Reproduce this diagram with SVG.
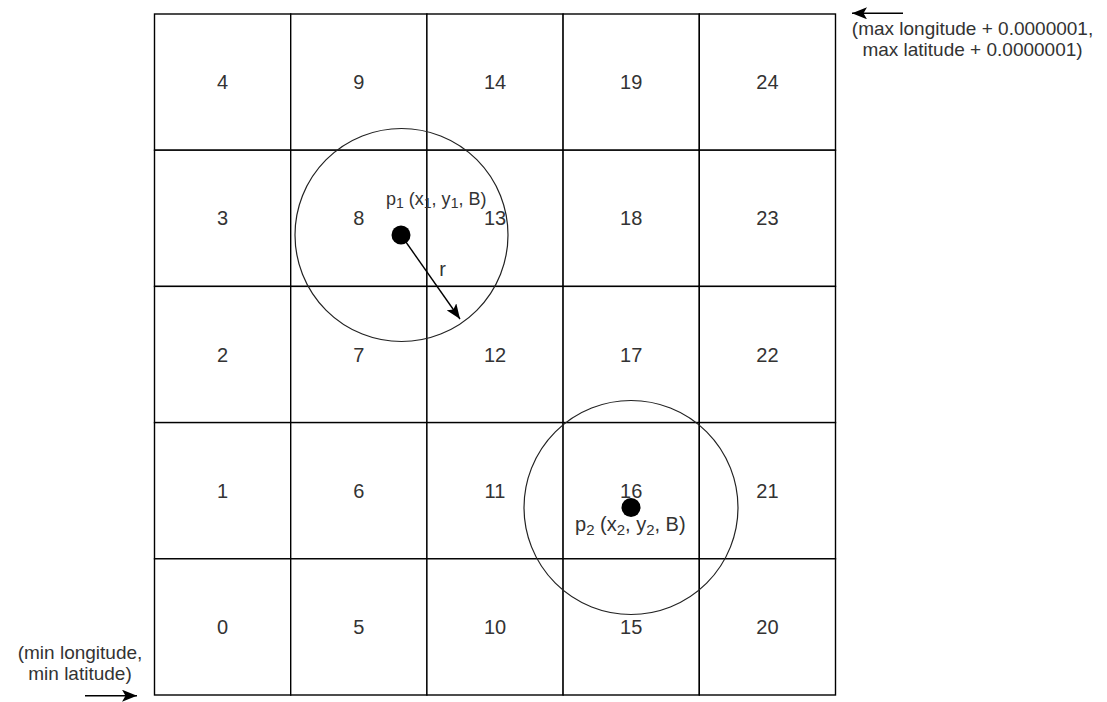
<svg xmlns="http://www.w3.org/2000/svg" width="1107" height="702" viewBox="0 0 1107 702">
<style>
.cell{fill:#fff;stroke:#000;stroke-width:1.4}
.num{font-family:"Liberation Sans",Arial,sans-serif;font-size:20px;fill:#333;text-anchor:middle}
.lbl{font-family:"Liberation Sans",Arial,sans-serif;fill:#333}
.ring{fill:none;stroke:#222;stroke-width:1.2}
.dot{fill:#000}
.conn{stroke:#000;stroke-width:1.4;fill:none}
</style>
<defs>
<marker id="ah" markerUnits="userSpaceOnUse" markerWidth="16" markerHeight="12" refX="15" refY="6" orient="auto">
<path d="M0,0 L15,6 L0,12 L3.5,6 z" fill="#000"/>
</marker>
</defs>
<rect width="1107" height="702" fill="#fff"/>
<g id="grid">
<g id="cell-4"><rect class="cell" x="154.5" y="14" width="136.2" height="136.2"/><text class="num" x="222.6" y="89.1">4</text></g>
<g id="cell-3"><rect class="cell" x="154.5" y="150.2" width="136.2" height="136.2"/><text class="num" x="222.6" y="225.3">3</text></g>
<g id="cell-2"><rect class="cell" x="154.5" y="286.4" width="136.2" height="136.2"/><text class="num" x="222.6" y="361.5">2</text></g>
<g id="cell-1"><rect class="cell" x="154.5" y="422.6" width="136.2" height="136.2"/><text class="num" x="222.6" y="497.7">1</text></g>
<g id="cell-0"><rect class="cell" x="154.5" y="558.8" width="136.2" height="136.2"/><text class="num" x="222.6" y="633.9">0</text></g>
<g id="cell-9"><rect class="cell" x="290.7" y="14" width="136.2" height="136.2"/><text class="num" x="358.8" y="89.1">9</text></g>
<g id="cell-8"><rect class="cell" x="290.7" y="150.2" width="136.2" height="136.2"/><text class="num" x="358.8" y="225.3">8</text></g>
<g id="cell-7"><rect class="cell" x="290.7" y="286.4" width="136.2" height="136.2"/><text class="num" x="358.8" y="361.5">7</text></g>
<g id="cell-6"><rect class="cell" x="290.7" y="422.6" width="136.2" height="136.2"/><text class="num" x="358.8" y="497.7">6</text></g>
<g id="cell-5"><rect class="cell" x="290.7" y="558.8" width="136.2" height="136.2"/><text class="num" x="358.8" y="633.9">5</text></g>
<g id="cell-14"><rect class="cell" x="426.9" y="14" width="136.2" height="136.2"/><text class="num" x="495" y="89.1">14</text></g>
<g id="cell-13"><rect class="cell" x="426.9" y="150.2" width="136.2" height="136.2"/><text class="num" x="495" y="225.3">13</text></g>
<g id="cell-12"><rect class="cell" x="426.9" y="286.4" width="136.2" height="136.2"/><text class="num" x="495" y="361.5">12</text></g>
<g id="cell-11"><rect class="cell" x="426.9" y="422.6" width="136.2" height="136.2"/><text class="num" x="495" y="497.7">11</text></g>
<g id="cell-10"><rect class="cell" x="426.9" y="558.8" width="136.2" height="136.2"/><text class="num" x="495" y="633.9">10</text></g>
<g id="cell-19"><rect class="cell" x="563.1" y="14" width="136.2" height="136.2"/><text class="num" x="631.2" y="89.1">19</text></g>
<g id="cell-18"><rect class="cell" x="563.1" y="150.2" width="136.2" height="136.2"/><text class="num" x="631.2" y="225.3">18</text></g>
<g id="cell-17"><rect class="cell" x="563.1" y="286.4" width="136.2" height="136.2"/><text class="num" x="631.2" y="361.5">17</text></g>
<g id="cell-16"><rect class="cell" x="563.1" y="422.6" width="136.2" height="136.2"/><text class="num" x="631.2" y="497.7">16</text></g>
<g id="cell-15"><rect class="cell" x="563.1" y="558.8" width="136.2" height="136.2"/><text class="num" x="631.2" y="633.9">15</text></g>
<g id="cell-24"><rect class="cell" x="699.3" y="14" width="136.2" height="136.2"/><text class="num" x="767.4" y="89.1">24</text></g>
<g id="cell-23"><rect class="cell" x="699.3" y="150.2" width="136.2" height="136.2"/><text class="num" x="767.4" y="225.3">23</text></g>
<g id="cell-22"><rect class="cell" x="699.3" y="286.4" width="136.2" height="136.2"/><text class="num" x="767.4" y="361.5">22</text></g>
<g id="cell-21"><rect class="cell" x="699.3" y="422.6" width="136.2" height="136.2"/><text class="num" x="767.4" y="497.7">21</text></g>
<g id="cell-20"><rect class="cell" x="699.3" y="558.8" width="136.2" height="136.2"/><text class="num" x="767.4" y="633.9">20</text></g>
</g>
<g id="circle-p1"><circle class="ring" cx="401.5" cy="235" r="106.5"/></g>
<g id="circle-p2"><circle class="ring" cx="631" cy="507.5" r="107"/></g>
<g id="connectors">
<line class="conn" x1="401" y1="235" x2="460" y2="319" marker-end="url(#ah)"/>
<line class="conn" x1="903" y1="13.3" x2="852" y2="13.3" marker-end="url(#ah)"/>
<line class="conn" x1="85" y1="695.7" x2="137" y2="695.7" marker-end="url(#ah)"/>
</g>
<g id="point-p1">
<circle class="dot" cx="401" cy="235" r="9.5"/>
<text class="lbl" x="386" y="205" font-size="18">p<tspan font-size="14" dy="3">1</tspan><tspan dy="-3"> (x</tspan><tspan font-size="14" dy="3">1</tspan><tspan dy="-3">, y</tspan><tspan font-size="14" dy="3">1</tspan><tspan dy="-3">, B)</tspan></text>
</g>
<g id="point-p2">
<circle class="dot" cx="631" cy="507.5" r="9.5"/>
<text class="lbl" x="575" y="531" font-size="20">p<tspan font-size="15" dy="4">2</tspan><tspan dy="-4"> (x</tspan><tspan font-size="15" dy="4">2</tspan><tspan dy="-4">, y</tspan><tspan font-size="15" dy="4">2</tspan><tspan dy="-4">, B)</tspan></text>
</g>
<g id="label-r"><text class="lbl" x="442.5" y="276" font-size="20" text-anchor="middle">r</text></g>
<g id="label-max"><text class="lbl" font-size="19" text-anchor="middle"><tspan x="972.5" y="35">(max longitude + 0.0000001,</tspan><tspan x="972.5" y="56">max latitude + 0.0000001)</tspan></text></g>
<g id="label-min"><text class="lbl" font-size="19" text-anchor="middle"><tspan x="80" y="659">(min longitude,</tspan><tspan x="80" y="680">min latitude)</tspan></text></g>
</svg>
